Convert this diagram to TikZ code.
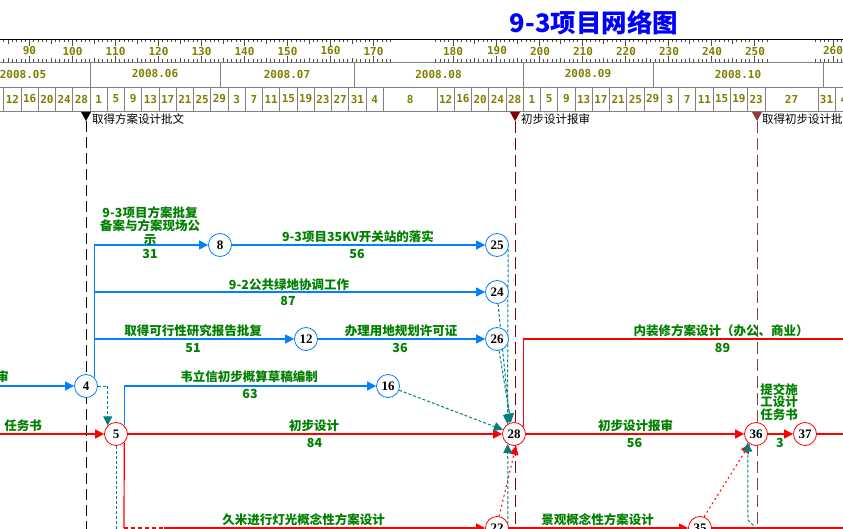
\documentclass[tikz,border=0pt]{standalone}
\usepackage{fontspec}
\usetikzlibrary{arrows.meta}
\newfontfamily\cjk{Noto Sans CJK SC}
\newfontfamily\mono{DejaVu Sans Mono}
\newfontfamily\serifb{Liberation Serif}
\definecolor{eblue}{RGB}{0,128,255}
\definecolor{ered}{RGB}{255,0,0}
\definecolor{eteal}{RGB}{0,128,128}
\definecolor{egreen}{RGB}{0,128,0}
\definecolor{olv}{RGB}{128,128,0}
\definecolor{mred}{RGB}{128,0,0}
\definecolor{mbrown}{RGB}{140,62,62}
\definecolor{tblue}{RGB}{0,0,255}
\definecolor{gridg}{RGB}{128,128,128}
\pgfdeclarelayer{bg}
\pgfsetlayers{bg,main}
\tikzset{
  evt/.style={circle, draw, fill=white, minimum size=23pt, inner sep=0pt, line width=0.8pt, font=\serifb\bfseries\fontsize{13}{13}\selectfont},
  bnode/.style={evt, draw=eblue},
  rnode/.style={evt, draw=ered},
  bline/.style={draw=eblue, line width=1.2pt},
  rline/.style={draw=ered, line width=1.2pt},
  tip/.style={-{Triangle[length=9pt,width=9pt]}},
  dum/.style={draw=eteal, line width=1pt, dash pattern=on 3pt off 2pt},
  rdot/.style={draw=ered, line width=1pt, dash pattern=on 2pt off 3pt},
  lab/.style={text=egreen, font=\cjk\bfseries\fontsize{12.5}{13.5}\selectfont, inner sep=0pt, align=center},
  mk/.style={font=\cjk\fontsize{11.5}{12}\selectfont, inner sep=0pt, anchor=west},
  olvtext/.style={text=olv, font=\mono\bfseries\fontsize{11}{11}\selectfont, inner sep=0pt},
  gridline/.style={draw=gridg, line width=0.9pt},
  tick/.style={draw=black!70, line width=0.7pt},
}
\begin{document}
\begin{tikzpicture}[x=1pt,y=-1pt]
\useasboundingbox (0,0) rectangle (843,529);
\begin{pgfonlayer}{bg}
\fill[white] (0,0) rectangle (843,529);
\end{pgfonlayer}

% title
\node[font=\cjk\bfseries\fontsize{25.5}{25.5}\selectfont, text=tblue, inner sep=0pt] (title) at (594,23) {9-3项目网络图};

% ruler
\draw[black, line width=1.6pt] (0,39.5) -- (843,39.5);
\draw[gridline] (0,62) -- (843,62);
\draw[gridline] (0,87) -- (843,87);
\draw[gridline] (0,111) -- (843,111);
\foreach \u in {83,...,174}{
  \pgfmathsetmacro\xx{29.5+(\u-90)*4.3}
  \pgfmathsetmacro\tl{mod(\u,10)==0 ? 6 : (mod(\u,5)==0 ? 4 : 2.5)}
  \draw[tick] (\xx,40) -- ++(0,\tl);
  \draw[tick] (\xx,62) -- ++(0,-\tl);
}
\foreach \u in {176,...,253}{
  \pgfmathsetmacro\xx{453+(\u-180)*4.3}
  \pgfmathsetmacro\tl{mod(\u,10)==0 ? 6 : (mod(\u,5)==0 ? 4 : 2.5)}
  \draw[tick] (\xx,40) -- ++(0,\tl);
  \draw[tick] (\xx,62) -- ++(0,-\tl);
}
\foreach \u in {256,...,262}{
  \pgfmathsetmacro\xx{833+(\u-260)*4.3}
  \pgfmathsetmacro\tl{mod(\u,10)==0 ? 6 : (mod(\u,5)==0 ? 4 : 2.5)}
  \draw[tick] (\xx,40) -- ++(0,\tl);
  \draw[tick] (\xx,62) -- ++(0,-\tl);
}
\foreach \xx/\n in {29.5/90,72.5/100,115.5/110,158.5/120,201.5/130,244.5/140,287.5/150,330.5/160,373.5/170,453/180,497/190,540/200,583/210,626/220,669/230,712/240,755/250,833/260}
  \node[olvtext, fill=white, inner xsep=1pt] (r\n) at (\xx,51) {\n};

% months
\foreach \xx in {90,220,354,523,653,823} \draw[gridline] (\xx,62) -- (\xx,87);
\foreach \xx/\m in {23/05,155/06,287/07,438.5/08,588/09,738/10}
  \node[olvtext] (m\m) at (\xx,74) {2008.\m};

% days
\foreach \d [count=\k from 0] in {12,16,20,24,28,1,5,9,13,17,21,25,29,3,7,11,15,19,23,27,31,4}{
  \draw[gridline] ({3.75+17.25*\k},87) -- ++(0,24);
  \node[olvtext] (da\k) at ({12.375+17.25*\k},99) {\d};
}
\draw[gridline] (383.25,87) -- ++(0,24);
\node[olvtext] (dax) at (410.1,99) {8};
\foreach \d [count=\k from 0] in {12,16,20,24,28,1,5,9,13,17,21,25,29,3,7,11,15,19,23}{
  \draw[gridline] ({437+17.25*\k},87) -- ++(0,24);
  \node[olvtext] (db\k) at ({445.625+17.25*\k},99) {\d};
}
\draw[gridline] (765,87) -- ++(0,24);
\node[olvtext] (dby) at (791.5,99) {27};
\draw[gridline] (818,87) -- ++(0,24);
\node[olvtext] (dbz) at (826.6,99) {31};
\draw[gridline] (835.25,87) -- ++(0,24);
\node[olvtext] (dbw) at (843.9,99) {4};

% markers
\fill[black] (81,112) -- (91,112) -- (86,121) -- cycle;
\node[mk] (t1) at (92,119) {取得方案设计批文};
\fill[mred] (510,112) -- (520,112) -- (515,121) -- cycle;
\node[mk] (t2) at (521,119) {初步设计报审};
\fill[mbrown] (752,112) -- (762,112) -- (757,121) -- cycle;
\node[mk] (t3) at (762,119) {取得初步设计批};
\begin{pgfonlayer}{bg}
\draw[black, line width=1pt, dash pattern=on 11pt off 5pt] (86,121) -- (86,529);
\draw[mred, line width=1pt, dash pattern=on 12pt off 5pt] (515,121) -- (515,529);
\draw[mbrown, line width=1pt, dash pattern=on 12pt off 5pt] (757,121) -- (757,529);
\end{pgfonlayer}

% event nodes
\node[bnode] (n4) at (86,386) {4};
\node[rnode] (n5) at (116,434) {5};
\node[bnode] (n8) at (220,245) {8};
\node[bnode] (n25) at (497,245) {25};
\node[bnode] (n24) at (497,292) {24};
\node[bnode] (n26) at (497,339) {26};
\node[bnode] (n12) at (306,339) {12};
\node[bnode] (n16) at (388,386) {16};
\node[rnode] (n28) at (514,434) {28};
\node[rnode] (n36) at (756,434) {36};
\node[rnode] (n37) at (805,434) {37};
\node[rnode] (n22) at (497,528) {22};
\node[rnode] (n35) at (700,528) {35};

% free ends
\coordinate (in4) at (0,386);
\coordinate (in5) at (0,434);
\coordinate (out37) at (843,434);
\coordinate (out28) at (843,339);
\coordinate (out35) at (843,528);
\coordinate (c5b) at (124,528);
\coordinate (c5a) at (164,528);
\coordinate (d5) at (116,529);
\coordinate (d28) at (508,529);
\coordinate (d36) at (757,529);
\coordinate (d36b) at (748,520);

\begin{pgfonlayer}{bg}
% blue activities
\draw[bline,tip] (in4) -- (n4);
\draw[bline,tip] (n4.46) |- (n8);
\draw[bline,tip] (n4.46) |- (n24);
\draw[bline,tip] (n4.46) |- (n12);
\draw[bline,tip] (n8) -- (n25);
\draw[bline,tip] (n12) -- (n26);
\draw[bline,tip] (n5.46) |- (n16);
% red activities
\draw[rline,tip] (in5) -- (n5);
\draw[rline,tip] (n5) -- (n28);
\draw[rline,tip] (n28) -- (n36);
\draw[rline,tip] (n36) -- (n37);
\draw[rline] (n37) -- (out37);
\draw[rline] (n28.38) |- (out28);
\draw[rline] (n5.-46) -- (c5b);
\draw[rline, dash pattern=on 4pt off 3pt] (c5b) -- (c5a);
\draw[rline,tip] (c5a) -- (n22);
\draw[rline,tip] (n22) -- (n35);
\draw[rline] (n35) -- (out35);
\draw[rdot,tip] (n22.80) -- (n28.-80);
\draw[rdot,tip] (n35.70) -- (n36);
% dummies
\draw[dum,tip] (n4) -| (n5.134);
\draw[dum] (n5) -- (d5);
\draw[dum,tip] (n16) -- (n28);
\draw[dum,tip] (n25.-21) -- (n28.123);
\draw[dum,tip] (n24.-85) -- (n28.110);
\draw[dum,tip] (n26.-80) -- (n28.105);
\draw[dum,tip] (d28) -- (n28.-122);
\draw[dum,tip] (d36) -- (d36b) -- (n36.-134);
\end{pgfonlayer}

% labels
\node[lab, anchor=east] (la0) at (9,377) {审};
\node[lab, anchor=east] (la1) at (42,426) {任务书};
\node[lab] (la2) at (150,226) {9-3项目方案批复\\备案与方案现场公\\示};
\node[lab] (la2d) at (150,254) {31};
\node[lab] (la3) at (358,237) {9-3项目35KV开关站的落实};
\node[lab] (la3d) at (357,254) {56};
\node[lab] (la4) at (289,285) {9-2公共绿地协调工作};
\node[lab] (la4d) at (288,301) {87};
\node[lab] (la5) at (193,331) {取得可行性研究报告批复};
\node[lab] (la5d) at (193,348) {51};
\node[lab] (la6) at (401,331) {办理用地规划许可证};
\node[lab] (la6d) at (400,348) {36};
\node[lab] (la7) at (249,377) {韦立信初步概算草稿编制};
\node[lab] (la7d) at (250,394) {63};
\node[lab] (la8) at (314,426) {初步设计};
\node[lab] (la8d) at (314.5,443) {84};
\node[lab] (la9) at (635.5,426) {初步设计报审};
\node[lab] (la9d) at (634.5,443) {56};
\node[lab] (la10) at (721,331) {内装修方案设计（办公、商业）};
\node[lab] (la10d) at (722.5,348) {89};
\node[lab, font=\cjk\bfseries\fontsize{12.5}{11.8}\selectfont] (la11) at (779,402) {提交施\\工设计\\任务书};
\node[lab] (la11d) at (780,443) {3};
\node[lab] (la12) at (303.5,520) {久米进行灯光概念性方案设计};
\node[lab] (la13) at (597.5,520) {景观概念性方案设计};
\end{tikzpicture}
\end{document}
